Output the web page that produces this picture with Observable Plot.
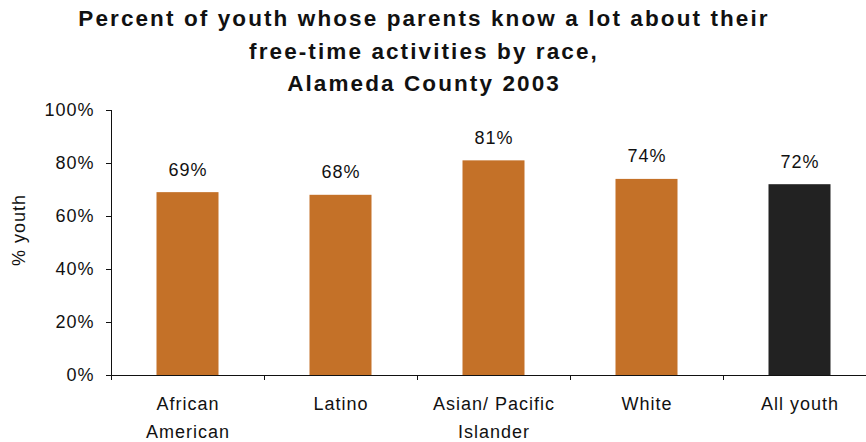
<!DOCTYPE html>
<html>
<head>
<meta charset="utf-8">
<script src="https://cdn.jsdelivr.net/npm/d3@7"></script>
<script src="https://cdn.jsdelivr.net/npm/@observablehq/plot@0.6"></script>
<style>
  html, body { margin: 0; padding: 0; background: #fff; }
  body { width: 866px; height: 442px; overflow: hidden; font-family: "Liberation Sans", Arial, sans-serif; }
  #title { height: 92px; box-sizing: border-box; padding-top: 3px; padding-right: 18px; text-align: center; font-weight: bold; font-size: 22.5px; letter-spacing: 2.1px; line-height: 32.5px; color: #111; }
  #chart svg { display: block; overflow: hidden; }
</style>
</head>
<body>
<div id="title">Percent of youth whose parents know a lot about their<br>free-time activities by race,<br>Alameda County 2003</div>
<div id="chart"></div>
<script>
const categories = ["African\nAmerican", "Latino", "Asian/ Pacific\nIslander", "White", "All youth"];
const values = [0.69, 0.68, 0.81, 0.74, 0.72];
const barColors = ["#C47128", "#C47128", "#C47128", "#C47128", "#222222"];
const yTicks = [0, 0.2, 0.4, 0.6, 0.8, 1.0];
const yLabel = "% youth";

const data = categories.map((c, i) => ({category: c, value: values[i], color: barColors[i]}));

const W = 866, H = 350, mL = 111, mR = -10;
const bw = (W - mR - mL) / categories.length;

const chart = Plot.plot({
  width: W,
  height: H,
  marginLeft: mL,
  marginRight: mR,
  marginTop: 18,
  marginBottom: 67,
  style: {fontFamily: "'Liberation Sans', Arial, sans-serif", fontSize: "18px", letterSpacing: "1px", color: "#111", background: "#fff"},
  x: {domain: categories, padding: 0},
  y: {domain: [0, 1]},
  marks: [
    Plot.barY(data, {x: "category", y: "value", fill: "color", insetLeft: 45.5, insetRight: 45.5}),
    Plot.text(data, {x: "category", y: "value", text: d => Math.round(d.value * 100) + "%", lineAnchor: "bottom", dy: -17, fontSize: 18, fill: "#111"}),
    Plot.axisY({ticks: yTicks, tickFormat: d => Math.round(d * 100) + "%", tickSize: 5, tickPadding: 12, fontSize: 18, label: null}),
    Plot.text([yLabel], {frameAnchor: "left", textAnchor: "middle", rotate: -90, dx: -92, dy: -13, fontSize: 18, fill: "#111"}),
    Plot.axisX({tickSize: 0, tickPadding: 15, fontSize: 18, lineHeight: 1.556, label: null}),
    Plot.ruleY([0], {stroke: "#111"}),
    Plot.frame({anchor: "left", stroke: "#111"}),
    Plot.ruleX(categories, {x: d => d, y1: 0, y2: 0, insetBottom: -5, dx: -bw / 2, stroke: "#111"})
  ]
});
document.getElementById("chart").appendChild(chart);
</script>
</body>
</html>
